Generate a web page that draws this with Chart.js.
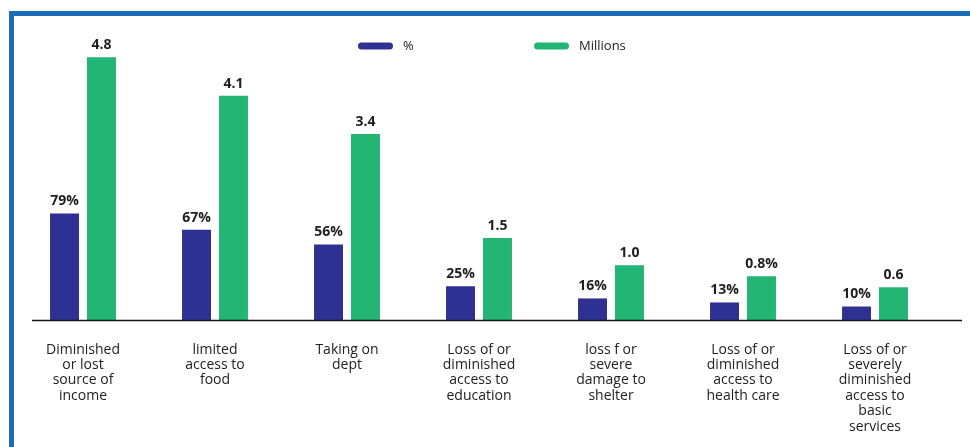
<!DOCTYPE html>
<html>
<head>
<meta charset="utf-8">
<script src="https://cdn.jsdelivr.net/npm/chart.js@4.4.1/dist/chart.umd.min.js"></script>
<style>
    html, body { margin: 0; padding: 0; background: #fff; }
    #wrap { position: relative; width: 970px; height: 447px; overflow: hidden; }
    #frame {
        position: absolute; left: 9px; top: 11px; right: -10px; bottom: -10px;
        border-top: 5px solid #1a6db4; border-left: 5px solid #1a6db4;
        pointer-events: none;
    }
    canvas { position: absolute; left: 0; top: 0; }
</style>
</head>
<body>
<div id="wrap">
    <canvas id="impact-chart" width="970" height="447"></canvas>
    <div id="frame"></div>
</div>
<script>
const categories = [
    ['Diminished', 'or lost', 'source of', 'income'],
    ['limited', 'access to', 'food'],
    ['Taking on', 'dept'],
    ['Loss of or', 'diminished', 'access to', 'education'],
    ['loss f or', 'severe', 'damage to', 'shelter'],
    ['Loss of or', 'diminished', 'access to', 'health care'],
    ['Loss of or', 'severely', 'diminished', 'access to', 'basic', 'services']
];
const percentValues = [79, 67, 56, 25, 16, 13, 10];
const millionValues = [4.8, 4.1, 3.4, 1.5, 1.0, 0.8, 0.6];
const percentLabels = percentValues.map(v => v + '%');
const millionLabels = ['4.8', '4.1', '3.4', '1.5', '1.0', '0.8%', '0.6'];

const FONT = "'Open Sans', 'Liberation Sans', sans-serif";

// value labels above each bar
const barLabels = {
    id: 'barLabels',
    afterDatasetsDraw(chart) {
        const ctx = chart.ctx;
        ctx.save();
        ctx.font = 'bold 14px ' + FONT;
        ctx.fillStyle = '#1e1e1e';
        ctx.textAlign = 'center';
        ctx.textBaseline = 'bottom';
        chart.data.datasets.forEach((ds, i) => {
            chart.getDatasetMeta(i).data.forEach((bar, j) => {
                ctx.fillText(ds.labels[j], bar.x, bar.y - 5);
            });
        });
        ctx.restore();
    }
};

// baseline under the bars
const baseline = {
    id: 'baseline',
    afterDatasetsDraw(chart) {
        const y = Math.round(chart.scales.yPct.getPixelForValue(0)) + 0.5;
        const ctx = chart.ctx;
        ctx.save();
        ctx.strokeStyle = '#111';
        ctx.lineWidth = 1.5;
        ctx.beginPath();
        ctx.moveTo(32, y);
        ctx.lineTo(962, y);
        ctx.stroke();
        ctx.restore();
    }
};

// legend: rounded swatches with the dataset names, drawn over the plot
const pillLegend = {
    id: 'pillLegend',
    afterDraw(chart) {
        const ctx = chart.ctx;
        const starts = [358, 534];
        const y = 46;
        ctx.save();
        ctx.font = '13px ' + FONT;
        ctx.textBaseline = 'middle';
        ctx.textAlign = 'left';
        chart.data.datasets.forEach((ds, i) => {
            const x = starts[i];
            ctx.fillStyle = ds.backgroundColor;
            ctx.beginPath();
            ctx.roundRect(x, y - 3.5, 35, 7, 3.5);
            ctx.fill();
            ctx.fillStyle = '#222';
            ctx.fillText(ds.label, x + 45, y);
        });
        ctx.restore();
    }
};

const ctx = document.getElementById('impact-chart').getContext('2d');
const impactChart = new Chart(ctx, {
    type: 'bar',
    data: {
        labels: categories,
        datasets: [{
            label: '%',
            data: percentValues,
            labels: percentLabels,
            backgroundColor: '#2e3192',
            yAxisID: 'yPct'
        }, {
            label: 'Millions',
            data: millionValues,
            labels: millionLabels,
            backgroundColor: '#22b573',
            yAxisID: 'yMil'
        }]
    },
    options: {
        responsive: false,
        animation: false,
        categoryPercentage: 0.56,
        barPercentage: 0.784,
        layout: {
            padding: { left: 17, right: 29, top: 30, bottom: 0 }
        },
        scales: {
            x: {
                grid: { display: false },
                border: { display: false },
                afterFit(scale) { scale.height = 127; },
                ticks: {
                    color: '#222',
                    padding: 14,
                    maxRotation: 0,
                    autoSkip: false,
                    font: { family: FONT, size: 14, lineHeight: 1.1 }
                }
            },
            yPct: {
                display: false,
                min: 0,
                max: 215
            },
            yMil: {
                display: false,
                min: 0,
                max: 5.3
            }
        },
        plugins: {
            legend: { display: false },
            tooltip: { enabled: false }
        }
    },
    plugins: [barLabels, baseline, pillLegend]
});
</script>
</body>
</html>
